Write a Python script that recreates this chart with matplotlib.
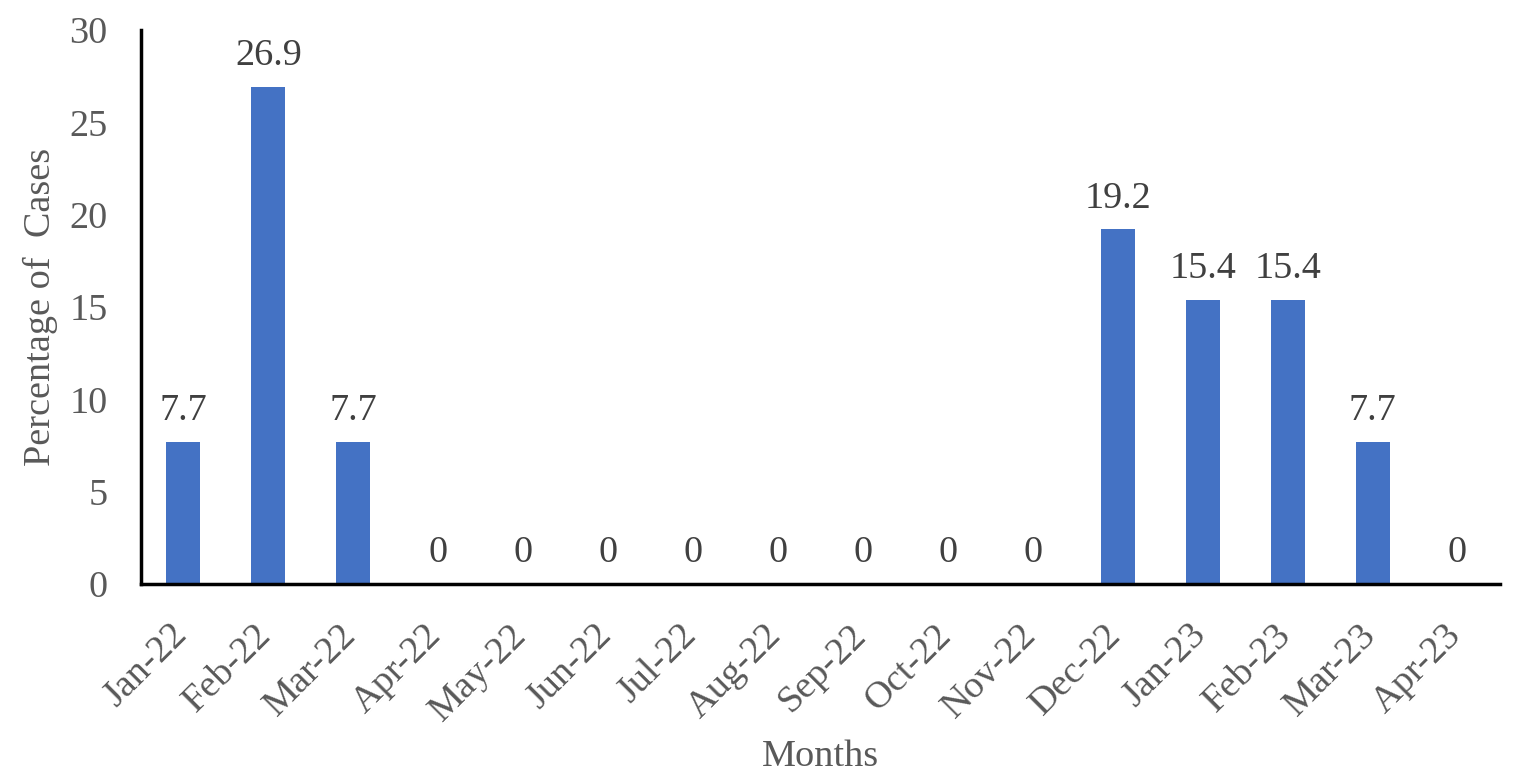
import matplotlib
matplotlib.use("Agg")
import matplotlib.pyplot as plt
import matplotlib.transforms as mtransforms

months = ["Jan-22", "Feb-22", "Mar-22", "Apr-22", "May-22", "Jun-22", "Jul-22", "Aug-22",
          "Sep-22", "Oct-22", "Nov-22", "Dec-22", "Jan-23", "Feb-23", "Mar-23", "Apr-23"]
percent = [7.7, 26.9, 7.7, 0, 0, 0, 0, 0, 0, 0, 0, 19.2, 15.4, 15.4, 7.7, 0]
yticks = [0, 5, 10, 15, 20, 25, 30]

plt.rcParams['font.family'] = ['Liberation Serif', 'DejaVu Serif']
gray = '#595959'
fs = 27.5

fig = plt.figure(figsize=(15.14, 7.78), dpi=100)
ax = fig.add_axes([141/1514, 1-584/778, (1500-141)/1514, (584-30)/778])
x = list(range(len(months)))
bars = ax.bar(x, percent, width=0.4, color='#4472C4', zorder=2)
for xi, v in zip(x, percent):
    lbl = f"{v:g}"
    ax.text(xi, v + 0.75, lbl, ha='center', va='bottom', fontsize=fs, color='#404040')

ax.set_xlim(-0.5, len(months) - 0.5)
ax.set_ylim(0, 30)
ax.set_yticks(yticks)
ax.set_yticklabels([str(t) for t in yticks], fontsize=fs, color=gray)
ax.set_xticks(x)
ax.set_xticklabels(months, rotation=45, ha='right', va='center', rotation_mode='anchor',
                   fontsize=fs, color=gray)
ax.tick_params(axis='both', length=0)
ax.tick_params(axis='y', pad=24)
ax.tick_params(axis='x', pad=33)
offset = mtransforms.ScaledTranslation(-2/100, 0, fig.dpi_scale_trans)
for lab in ax.get_xticklabels():
    lab.set_transform(lab.get_transform() + offset)
for s in ['top', 'right']:
    ax.spines[s].set_visible(False)
for s in ['left', 'bottom']:
    ax.spines[s].set_linewidth(2.5)
    ax.spines[s].set_color('black')
ax.set_ylabel("Percentage of  Cases", fontsize=fs, color=gray, labelpad=8)
ax.set_xlabel("Months", fontsize=fs, color=gray, va='center')
ax.xaxis.set_label_coords(0.5, -(757 - 584) / 554)
fig.savefig("out.png", dpi=100)
